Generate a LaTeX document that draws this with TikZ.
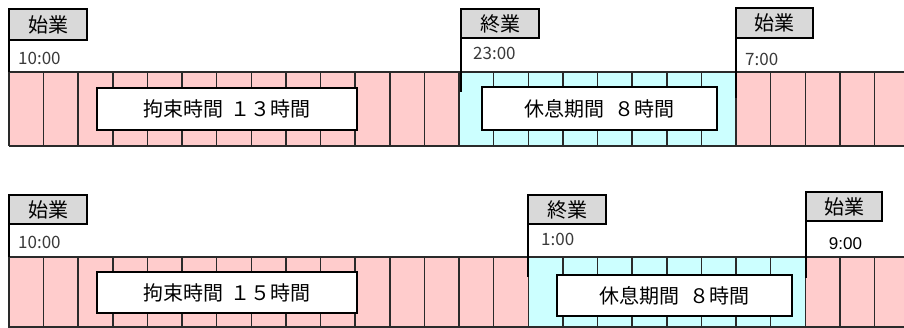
\documentclass[tikz,border=0pt]{standalone}
\usepackage{fontspec}
\setmainfont{Noto Sans CJK JP}
\newfontfamily\latinsans{Liberation Sans}
\definecolor{pinkc}{HTML}{FFCCCC}
\definecolor{cyanc}{HTML}{CCFFFF}
\definecolor{tagc}{HTML}{D9D9D9}
\definecolor{gridc}{HTML}{2A2A2A}
\definecolor{timec}{HTML}{3A3A3A}
\tikzset{
  tagbox/.style={draw=black, fill=tagc, line width=1.6pt, inner sep=0pt, outer sep=0pt,
    minimum width=78pt, minimum height=30pt, font=\fontsize{20}{20}\selectfont},
  labelbox/.style={draw=black, fill=white, line width=1.8pt, inner sep=0pt, outer sep=0pt,
    font=\fontsize{20}{20}\selectfont},
  timetext/.style={anchor=base west, inner sep=0pt, text=timec, font=\fontsize{17}{17}\selectfont},
  marker/.style={draw=black, line width=1.8pt},
  grid line/.style={draw=gridc, line width=1.5pt},
}
\begin{document}
\begin{tikzpicture}[x=1pt,y=-1pt]
\useasboundingbox (0,0) rectangle (904,328);
\def\w{34.62}
\begin{scope}
\clip (0,0) rectangle (904,328);
% ---- top bar ----
\fill[pinkc] (9,72) rectangle (904,146);
\fill[cyanc] ({9+13*\w},72) rectangle ({9+21*\w},146);
\foreach \i in {0,...,25} \draw[grid line] ({9+\i*\w},72) -- ({9+\i*\w},146);
\draw[grid line] (9,72) -- (910,72);
\draw[grid line] (9,146) -- (910,146);
% ---- bottom bar ----
\fill[pinkc] (9,257) rectangle (904,330);
\fill[cyanc] ({9+15*\w},257) rectangle ({9+23*\w},330);
\foreach \i in {0,...,25} \draw[grid line] ({9+\i*\w},257) -- ({9+\i*\w},330);
\draw[grid line] (9,257) -- (910,257);
\draw[grid line] (9,327) -- (910,327);
\end{scope}

% ---- label boxes ----
\node[labelbox, minimum width=260pt, minimum height=42pt] (L1) at (227,109) {拘束時間\hspace{0.4em}１３時間};
\node[labelbox, minimum width=235pt, minimum height=43pt] (L2) at (599.5,108.5) {休息期間\hspace{0.5em}８時間};
\node[labelbox, minimum width=260pt, minimum height=41pt] (L3) at (227,292.5) {拘束時間\hspace{0.4em}１５時間};
\node[labelbox, minimum width=235pt, minimum height=41pt] (L4) at (674.5,295.5) {休息期間\hspace{0.5em}８時間};

% ---- tags top ----
\node[tagbox, minimum height=31pt] (T1) at (48,24.5) {始業};
\node[tagbox, minimum height=29pt] (T2) at (500,23.5) {終業};
\node[tagbox, minimum width=77pt] (T3) at (774.5,23) {始業};
\coordinate (mT1) at (9,72);
\coordinate (mT2) at (461,92);
\coordinate (mT3) at (736,98);
\draw[marker] (T1.south west) -- (mT1);
\draw[marker] (T2.south west) -- (mT2);
\draw[marker] (T3.south west) -- (mT3);
\node[timetext] (t1) at (18,65) {10:00};
\node[timetext] (t2) at (473,60) {23:00};
\node[timetext] (t3) at (745,66) {7:00};

% ---- tags bottom ----
\node[tagbox, minimum height=29pt] (B1) at (48,209.5) {始業};
\node[tagbox, minimum height=29pt] (B2) at (567,209.5) {終業};
\node[tagbox, minimum width=76pt, minimum height=29pt] (B3) at (844,206.5) {始業};
\coordinate (mB1) at (9,257);
\coordinate (mB2) at (528,277);
\coordinate (mB3) at (806,278);
\draw[marker] (B1.south west) -- (mB1);
\draw[marker] (B2.south west) -- (mB2);
\draw[marker] (B3.south west) -- (mB3);
\node[timetext] (b1) at (18,249) {10:00};
\node[timetext] (b2) at (541,246) {1:00};
\node[anchor=base, inner sep=0pt, font=\latinsans\fontsize{17}{17}\selectfont] (b3) at (845.5,250) {9:00};
\end{tikzpicture}
\end{document}
